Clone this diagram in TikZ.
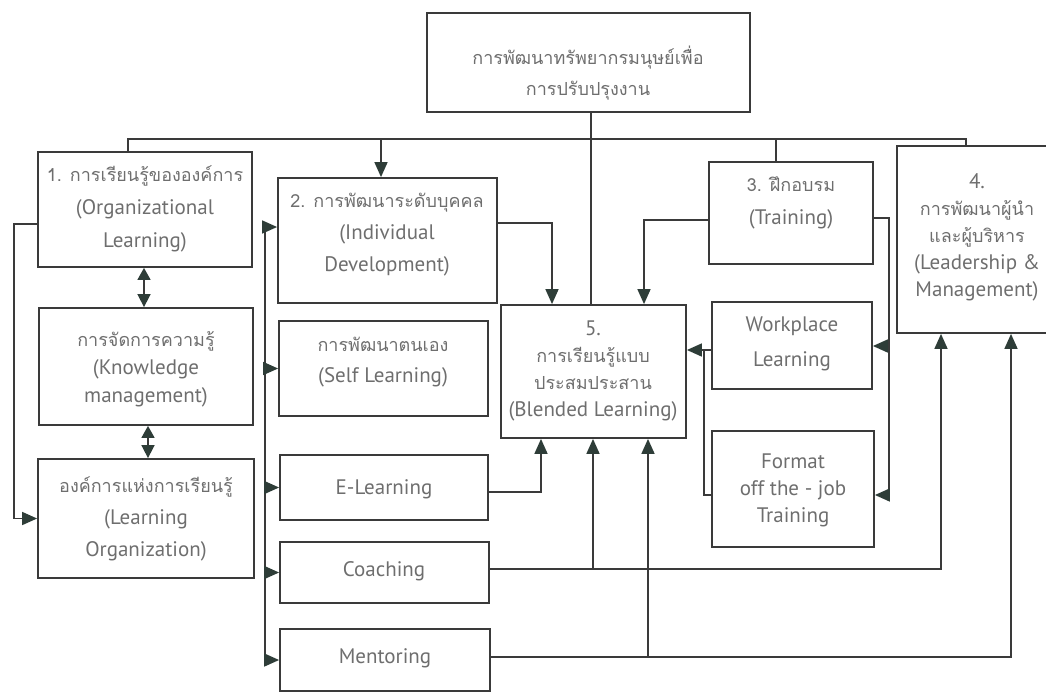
\documentclass[tikz,border=0pt]{standalone}
\usepackage{fontspec}
\setmainfont{PT Sans}
\newfontfamily\thai[Script=Thai]{Loma}
\usetikzlibrary{arrows.meta}
\definecolor{linegray}{HTML}{3A3A3A}
\definecolor{tipcol}{HTML}{2E3D38}
\definecolor{txtgray}{HTML}{6E6E6E}
\newcommand\fs[1]{\fontsize{21}{#1}\selectfont}
\newcommand\tht[1]{{\thai\fontsize{18}{20}\selectfont #1}}
% rectangle from its left, top, right and bottom edges (y grows downwards)
\newcommand\mkbox[5]{\node[box, minimum width={#4-#2}, minimum height={#5-#3}] (#1) at ({(#2+#4)/2},{(#3+#5)/2}) {};}

\begin{document}
\begin{tikzpicture}[x=1pt,y=-1pt,
  box/.style={draw=linegray, line width=1.8pt, rectangle, inner sep=0pt},
  txt/.style={align=center, text=txtgray, inner sep=0pt},
  conn/.style={draw=linegray, line width=1.6pt},
  arr/.style={conn, -{Triangle[length=15pt,width=13pt,color=tipcol]}},
  dbl/.style={conn, {Triangle[length=12pt,width=13pt,color=tipcol]}-{Triangle[length=13pt,width=13pt,color=tipcol]}},
]
\useasboundingbox (0,0) rectangle (1046,694);
\clip (0,0) rectangle (1046,694);

% ---- boxes ----
\mkbox{top}{427}{13}{750}{112}
\mkbox{b1}{38}{152}{252}{267}
\mkbox{km}{39}{308}{253}{425}
\mkbox{lo}{38}{459}{254}{578}
\mkbox{b2}{278}{178}{497}{303}
\mkbox{self}{279}{321}{488}{416}
\mkbox{el}{280}{455}{488}{520}
\mkbox{coach}{280}{542}{489}{603}
\mkbox{ment}{280}{629}{490}{691}
\mkbox{b5}{501}{305}{686}{438}
\mkbox{b3}{709}{162}{873}{264}
\mkbox{b4}{897}{146}{1058}{333}
\mkbox{wp}{712}{302}{872}{389}
\mkbox{fmt}{712}{431}{874}{547}

% ---- labels ----
\node[txt, font=\fs{31}] (ttop) at (588,73) {\tht{การพัฒนาทรัพยากรมนุษย์เพื่อ}\\\tht{การปรับปรุงงาน}};
\node[txt, font=\fs{33}] (tb1) at (145,209) {\tht{1. การเรียนรู้ขององค์การ}\\(Organizational\\Learning)};
\node[txt, font=\fs{32}] (tb2) at (387,235) {\tht{2. การพัฒนาระดับบุคคล}\\(Individual\\Development)};
\node[txt, font=\fs{33}] (tb3) at (791,203) {\tht{3. ฝึกอบรม}\\(Training)};
\node[txt, font=\fs{27}] (tb4) at (977,237) {4.\\\tht{การพัฒนาผู้นำ}\\\tht{และผู้บริหาร}\\(Leadership \&\\Management)};
\node[txt, font=\fs{27}] (tb5) at (593,371) {5.\\\tht{การเรียนรู้แบบ}\\\tht{ประสมประสาน}\\(Blended Learning)};
\node[txt, font=\fs{28}] (tkm) at (146,369) {\tht{การจัดการความรู้}\\(Knowledge\\management)};
\node[txt, font=\fs{32}] (tlo) at (146,519) {\tht{องค์การแห่งการเรียนรู้}\\(Learning\\Organization)};
\node[txt, font=\fs{31}] (tself) at (383,362) {\tht{การพัฒนาตนเอง}\\(Self Learning)};
\node[txt, font=\fs{25}] (tel) at (384,489) {E-Learning};
\node[txt, font=\fs{25}] (tcoach) at (384,571) {Coaching};
\node[txt, font=\fs{25}] (tment) at (385,658) {Mentoring};
\node[txt, font=\fs{35}] (twp) at (792,344) {Workplace\\Learning};
\node[txt, font=\fs{27}] (tfmt) at (793,490) {Format\\off the - job\\Training};

% ---- top bus ----
\coordinate (busL) at (128,139);
\coordinate (busR) at (966,139);
\coordinate (busA) at (381,139);
\coordinate (busT) at (776,139);
\coordinate (vx) at (591,0);
\draw[conn] (b1.north -| busL) -- (busL) -- (busR) -- (b4.north -| busR);
\draw[arr] (busA) -- (b2.north -| busA);
\draw[conn] (busT) -- (b3.north -| busT);
\draw[conn] (top.south -| vx) -- (b5.north -| vx);

% ---- into blended learning from above ----
\coordinate (c2) at (552,223);
\draw[arr] (b2.east |- c2) -- (c2) -- (b5.north -| c2);
\coordinate (c3) at (644,220);
\draw[arr] (b3.west |- c3) -- (c3) -- (b5.north -| c3);

% ---- training branches ----
\coordinate (c3r) at (889,218);
\coordinate (cw) at (889,346);
\coordinate (cf) at (889,495);
\draw[conn] (b3.east |- c3r) -- (c3r) -- (cf);
\draw[arr] (cw) -- (wp.east |- cw);
\draw[arr] (cf) -- (fmt.east |- cf);
\coordinate (cwl) at (704,350);
\coordinate (cfl) at (704,495);
\draw[arr] (wp.west |- cwl) -- (b5.east |- cwl);
\draw[conn] (fmt.west |- cfl) -- (cfl) -- (cwl);

% ---- left column ----
\coordinate (ll) at (14,224);
\draw[arr] (b1.west |- ll) -- (ll) |- (lo.west);
\coordinate (d1) at (144,0);
\coordinate (d2) at (148,0);
\draw[dbl] (b1.south -| d1) -- (km.north -| d1);
\draw[dbl] (km.south -| d2) -- (lo.north -| d2);

% ---- individual development bus ----
\coordinate (lbT) at (265,222);
\coordinate (lbB) at (265,666);
\coordinate (a2) at (265,227);
\draw[conn] (lbT) -- (lbB);
\draw[arr] (a2) -- (b2.west |- a2);
\foreach \n in {self,el,coach,ment}
  \draw[arr] (lbT |- \n.west) -- (\n.west);

% ---- lower feeds ----
\coordinate (e1) at (541,492);
\draw[arr] (el.east |- e1) -- (e1) -- (b5.south -| e1);
\coordinate (co) at (941,569);
\coordinate (cb) at (593,569);
\draw[arr] (coach.east |- co) -- (co) -- (b4.south -| co);
\draw[arr] (cb) -- (b5.south -| cb);
\coordinate (me) at (1011,657);
\coordinate (mb) at (648,657);
\draw[arr] (ment.east |- me) -- (me) -- (b4.south -| me);
\draw[arr] (mb) -- (b5.south -| mb);
\end{tikzpicture}
\end{document}
